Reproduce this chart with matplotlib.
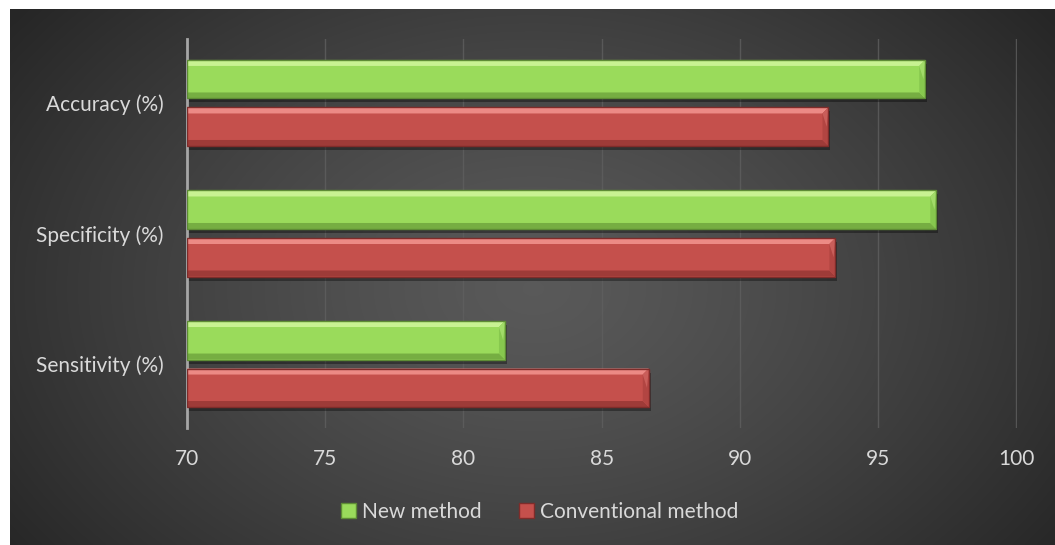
import numpy as np
import matplotlib
matplotlib.use("Agg")
import matplotlib.pyplot as plt
from matplotlib.patches import Polygon, Rectangle, Patch

categories = ["Accuracy (%)", "Specificity (%)", "Sensitivity (%)"]
new_method = [96.7, 97.1, 81.5]
conventional_method = [93.2, 93.45, 86.7]
series_names = ["New method", "Conventional method"]
xticks = [70, 75, 80, 85, 90, 95, 100]

plt.rcParams['font.family'] = ['Lato', 'DejaVu Sans']
TXT = '#d9d9d9'
FS = 15

fig = plt.figure(figsize=(10.55, 5.45), dpi=100)
fig.patch.set_facecolor('white')

# background radial gradient panel
bg = fig.add_axes([10/1055, 0, 1 - 10/1055, 1 - 9/545])
bg.set_axis_off()
H, W = 300, 600
yy, xx = np.mgrid[0:H, 0:W]
cx, cy = W * 0.50, H * 0.52
r = np.sqrt(((xx - cx) / (W * 0.62)) ** 2 + ((yy - cy) / (H * 0.85)) ** 2)
r = np.clip(r, 0, 1)
val = 0.35 - (0.35 - 0.15) * r ** 1.3
img = np.dstack([val, val, val])
bg.imshow(img, aspect='auto', extent=[0, 1, 0, 1], interpolation='bilinear')
bg.set_xlim(0, 1); bg.set_ylim(0, 1)

ax = fig.add_axes([187/1055, 1 - 428/545, (1016.5 - 187)/1055, (428 - 39)/545])
ax.set_facecolor('none')
ax.set_xlim(70, 100)
ax.set_ylim(2.49, -0.49)
ax.set_xticks(xticks)
ax.set_yticks(range(len(categories)))
ax.set_yticklabels(categories)
for s in ['top', 'right', 'bottom']:
    ax.spines[s].set_visible(False)
ax.spines['left'].set_color('#a6a6a6')
ax.spines['left'].set_linewidth(2)
ax.tick_params(axis='both', length=0, colors=TXT, labelsize=FS)
ax.tick_params(axis='x', pad=15)
ax.tick_params(axis='y', pad=17)
ax.grid(axis='x', color='#5f5f5f', linewidth=1, alpha=0.8)
ax.set_axisbelow(True)

fig.canvas.draw()
# pixel scale
p0 = ax.transData.transform((70, 0))
p1 = ax.transData.transform((71, 1))
px_x = abs(p1[0] - p0[0])
px_y = abs(p1[1] - p0[1])
bw_x = 6 / px_x
bw_y = 6 / px_y

h = 0.295
off = 0.182
styles = {
    0: dict(face='#9ADB5B', top='#C8F292', bot='#76AE42', right='#87C84E', rtop='#B4E97A', edge='#5E8C35'),
    1: dict(face='#C5504C', top='#EC8A85', bot='#9E3B38', right='#B24542', rtop='#D9706B', edge='#7F2C2A'),
}

def bevel_bar(ycen, val, st):
    x0, x1 = 70, val
    y0, y1 = ycen - h / 2, ycen + h / 2  # y0 visually top (inverted axis)
    # shadow
    ax.add_patch(Rectangle((x0, y0 + 4 / px_y), x1 - x0 + 2 / px_x, h, facecolor='black', alpha=0.35,
                           edgecolor='none', zorder=2))
    ax.add_patch(Rectangle((x0, y0), x1 - x0, h, facecolor=st['face'], edgecolor='none', zorder=3))
    # top bevel
    ax.add_patch(Polygon([(x0, y0), (x1, y0), (x1 - bw_x, y0 + bw_y), (x0, y0 + bw_y)],
                         closed=True, facecolor=st['top'], edgecolor='none', zorder=4))
    # bottom bevel
    ax.add_patch(Polygon([(x0, y1), (x1, y1), (x1 - bw_x, y1 - bw_y), (x0, y1 - bw_y)],
                         closed=True, facecolor=st['bot'], edgecolor='none', zorder=4))
    # right bevel
    ax.add_patch(Polygon([(x1, y0), (x1, y1), (x1 - bw_x, y1 - bw_y), (x1 - bw_x, y0 + bw_y)],
                         closed=True, facecolor=st['right'], edgecolor='none', zorder=4))
    ax.add_patch(Polygon([(x1, y0), (x1 - bw_x, y0 + bw_y), (x1 - bw_x * 0.3, (y0 + y1) / 2)],
                         closed=True, facecolor=st['rtop'], edgecolor='none', zorder=4, alpha=0.6))
    ax.add_patch(Rectangle((x0, y0), x1 - x0, h, facecolor='none', edgecolor=st['edge'],
                           linewidth=1, zorder=5))

for i in range(len(categories)):
    bevel_bar(i - off, new_method[i], styles[0])
    bevel_bar(i + off, conventional_method[i], styles[1])

handles = [Patch(facecolor=styles[0]['face'], edgecolor=styles[0]['edge']),
           Patch(facecolor=styles[1]['face'], edgecolor=styles[1]['edge'])]
leg = fig.legend(handles, series_names, loc='center', bbox_to_anchor=(540/1055, 1 - 512/545),
                 ncol=2, frameon=False, fontsize=FS, handlelength=0.7, handleheight=0.7,
                 handletextpad=0.3, columnspacing=1.8)
for t in leg.get_texts():
    t.set_color(TXT)

fig.savefig('out.png', dpi=100, facecolor=fig.get_facecolor())
